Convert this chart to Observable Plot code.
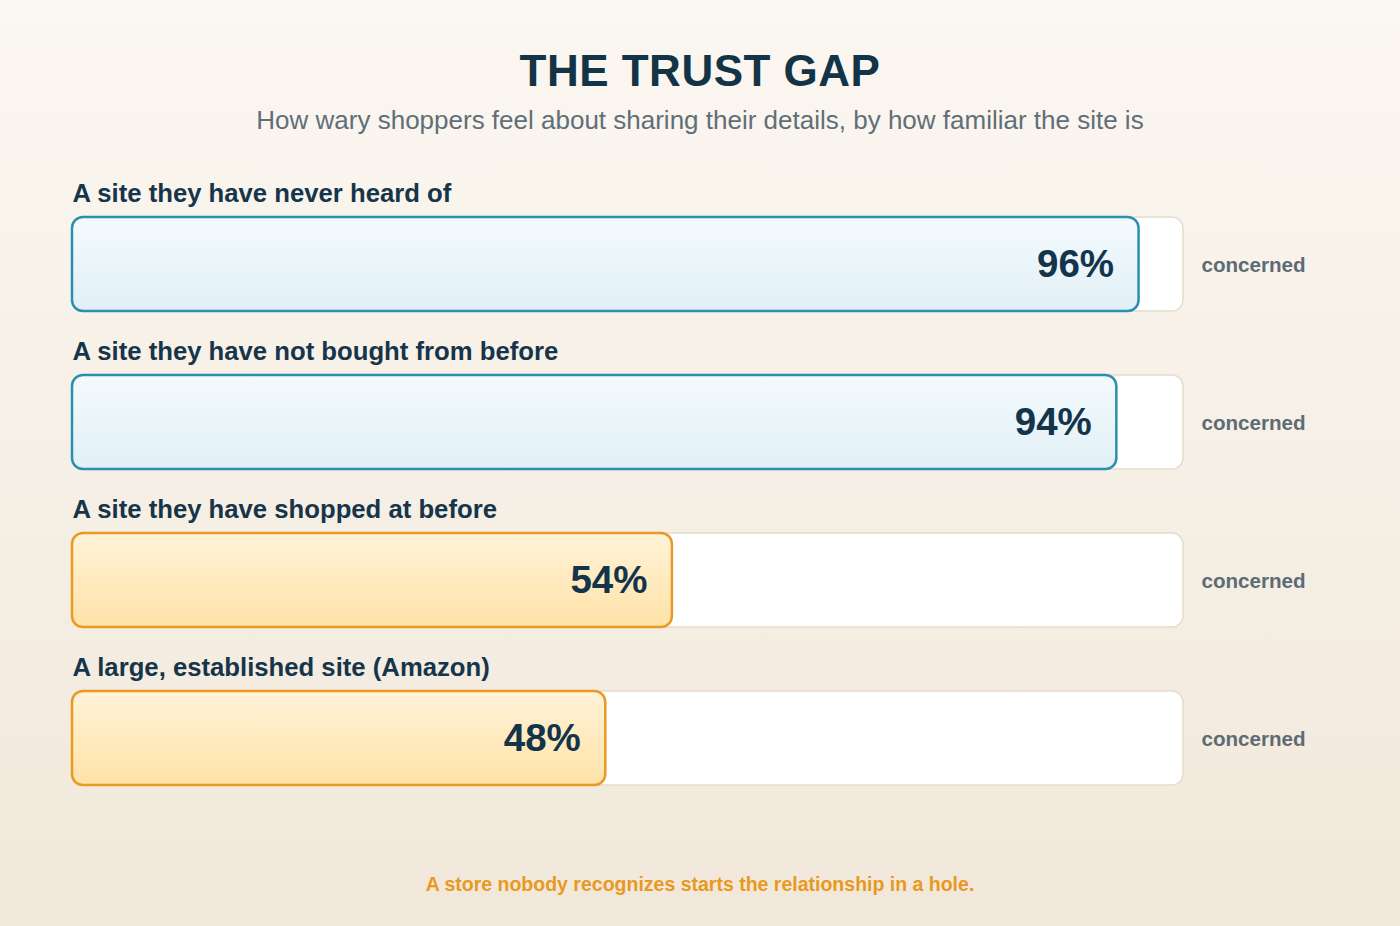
<!DOCTYPE html>
<html><head><meta charset="utf-8">
<script src="https://cdn.jsdelivr.net/npm/d3@7"></script>
<script src="https://cdn.jsdelivr.net/npm/@observablehq/plot@0.6"></script>
<style>
html,body{margin:0;padding:0;}
body{width:1400px;height:926px;overflow:hidden;position:relative;
  background:linear-gradient(180deg,#fbf7f1 0%,#f1e8da 100%);
  font-family:"Liberation Sans",Arial,Helvetica,sans-serif;}
.t{position:absolute;left:0;width:1400px;text-align:center;white-space:nowrap;}
#title{top:49px;font-size:44px;line-height:44px;font-weight:700;color:#133447;letter-spacing:0.5px;}
#subtitle{top:107px;font-size:26px;line-height:26px;color:#5f6f78;}
#footer{top:875px;font-size:19.5px;line-height:19.5px;font-weight:700;color:#e8991f;}
#chart{position:absolute;left:0;top:160px;}
</style></head>
<body>
<div id="title" class="t">THE TRUST GAP</div>
<div id="subtitle" class="t">How wary shoppers feel about sharing their details, by how familiar the site is</div>
<div id="chart"></div>
<div id="footer" class="t">A store nobody recognizes starts the relationship in a hole.</div>
<script>
const categories = [
  "A site they have never heard of",
  "A site they have not bought from before",
  "A site they have shopped at before",
  "A large, established site (Amazon)"
];
const concerned = [96, 94, 54, 48];
const tones = ["unfamiliar", "unfamiliar", "familiar", "familiar"];
const suffix = "concerned";

const rows = categories.map((c, i) => ({category: c, value: concerned[i], tone: tones[i]}));
const unfamiliar = rows.filter(d => d.tone === "unfamiliar");
const familiar = rows.filter(d => d.tone === "familiar");

const svg = Plot.plot({
  width: 1400,
  height: 660,
  marginLeft: 72,
  marginRight: 217,
  marginTop: 56,
  marginBottom: 35,
  x: {domain: [0, 100], axis: null},
  y: {domain: categories, paddingInner: 0.407, paddingOuter: 0, axis: null},
  style: {background: "transparent", fontFamily: "'Liberation Sans', Arial, Helvetica, sans-serif", overflow: "visible"},
  marks: [
    Plot.barX(rows, {y: "category", x1: 0, x2: 100, fill: "white", stroke: "#e6dccb", strokeWidth: 1.5, rx: 11}),
    Plot.barX(unfamiliar, {y: "category", x1: 0, x2: "value", fill: "url(#gradBlue)", stroke: "#2b8fae", strokeWidth: 2.5, rx: 11}),
    Plot.barX(familiar, {y: "category", x1: 0, x2: "value", fill: "url(#gradOrange)", stroke: "#e99a22", strokeWidth: 2.5, rx: 11}),
    Plot.text(rows, {y: "category", x: 0, text: "category", textAnchor: "start", dy: -71, fontSize: 25.7, fontWeight: 700, fill: "#16354a"}),
    Plot.text(rows, {y: "category", x: "value", text: d => d.value + "%", textAnchor: "end", dx: -25, dy: 0, fontSize: 38.5, fontWeight: 700, fill: "#13344a"}),
    Plot.text(rows, {y: "category", x: 100, text: () => suffix, textAnchor: "start", dx: 18, dy: 1, fontSize: 20.6, fontWeight: 700, fill: "#5d6c74"})
  ]
});

const defs = d3.select(svg).insert("defs", ":first-child");
const gb = defs.append("linearGradient").attr("id", "gradBlue").attr("x1", 0).attr("y1", 0).attr("x2", 0).attr("y2", 1);
gb.append("stop").attr("offset", "0%").attr("stop-color", "#f4fafc");
gb.append("stop").attr("offset", "100%").attr("stop-color", "#e1f0f7");
const go = defs.append("linearGradient").attr("id", "gradOrange").attr("x1", 0).attr("y1", 0).attr("x2", 0).attr("y2", 1);
go.append("stop").attr("offset", "0%").attr("stop-color", "#fff3d8");
go.append("stop").attr("offset", "100%").attr("stop-color", "#ffe2a8");

document.getElementById("chart").appendChild(svg);
</script>
</body></html>
